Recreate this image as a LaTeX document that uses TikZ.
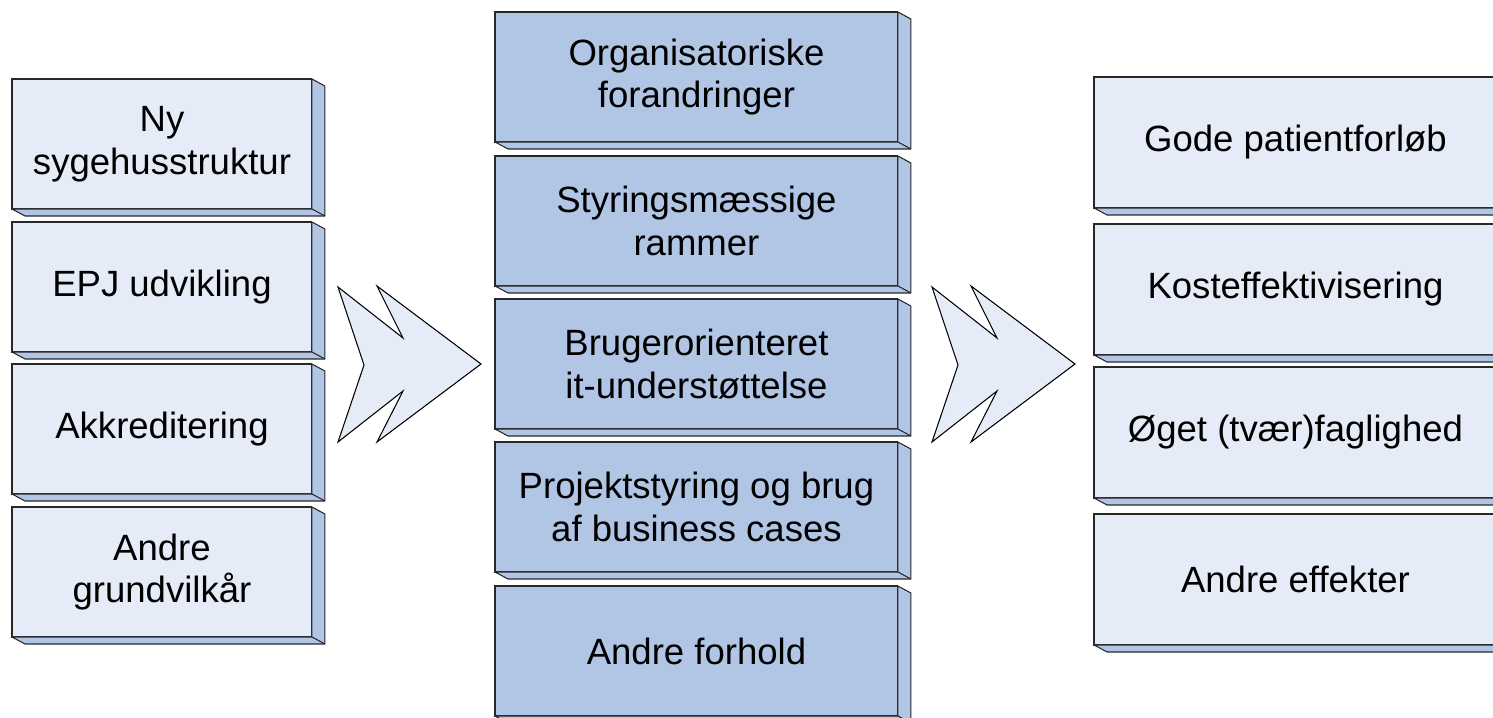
\documentclass[tikz,border=0pt]{standalone}
\usepackage{fontspec}
\setmainfont{Liberation Sans}
\usepackage{tikz}
\usetikzlibrary{arrows.meta}

\definecolor{paleblue}{RGB}{230,236,247}
\definecolor{midblue}{RGB}{177,197,228}
\definecolor{edgegray}{RGB}{40,40,40}

\tikzset{
  box/.style={draw=edgegray, line width=0.6pt, anchor=north west, inner sep=0pt, outer sep=0pt,
    align=center, font={\fontsize{20.8}{24.4}\selectfont}, text=black},
  leftbox/.style={box, fill=paleblue, minimum width=6cm, minimum height=2.6cm},
  midbox/.style={box, fill=midblue, minimum width=8.06cm, minimum height=2.6cm},
  rightbox/.style={box, fill=paleblue, minimum width=8.06cm, minimum height=2.62cm},
  slabside/.style={draw=edgegray, line width=0.6pt, fill=midblue, line join=round},
  chevron/.style={draw=black, line width=0.6pt, fill=paleblue, line join=miter}
}

\begin{document}
\begin{tikzpicture}[x=0.02cm, y=-0.02cm]
    \useasboundingbox (0,0) rectangle (1493,717);
    \clip (0,0) rectangle (1493,717);
    \fill[white] (0,0) rectangle (1493,717);

    % grundvilkaar
    \node[leftbox] (l1) at (12, 79) {Ny\\sygehusstruktur};
    \node[leftbox] (l2) at (12, 222) {EPJ udvikling};
    \node[leftbox] (l3) at (12, 364) {Akkreditering};
    \node[leftbox] (l4) at (12, 507) {Andre\\grundvilkår};

    % forhold
    \node[midbox] (m1) at (495, 12) {Organisatoriske\\forandringer};
    \node[midbox] (m2) at (495, 156) {Styringsmæssige\\rammer};
    \node[midbox] (m3) at (495, 299) {Brugerorienteret\\it-understøttelse};
    \node[midbox] (m4) at (495, 442) {Projektstyring og brug\\af business cases};
    \node[midbox] (m5) at (495, 586) {Andre forhold};

    % effekter
    \node[rightbox] (r1) at (1094, 77) {Gode patientforløb};
    \node[rightbox] (r2) at (1094, 224) {Kosteffektivisering};
    \node[rightbox] (r3) at (1094, 367) {Øget (tvær)faglighed};
    \node[rightbox] (r4) at (1094, 514) {Andre effekter};

    % 3d sides
    \foreach \b in {l1,l2,l3,l4,m1,m2,m3,m4,m5,r1,r2,r3,r4}{
        \filldraw[slabside] (\b.north east) -- ++(13,7) -- ([shift={(13,7)}]\b.south east)
            -- ([shift={(13,7)}]\b.south west) -- (\b.south west) -- (\b.south east) -- cycle;
        \draw[slabside] (\b.south east) -- ++(13,7);
    }

    % double arrows
    \foreach \ax in {0,594}{
        \filldraw[chevron, xshift=\ax*0.02cm] (338,287) -- (403,338) -- (377,286) -- (481,364)
            -- (377,442) -- (403,391) -- (338,442) -- (364,365) -- cycle;
    }
\end{tikzpicture}
\end{document}
